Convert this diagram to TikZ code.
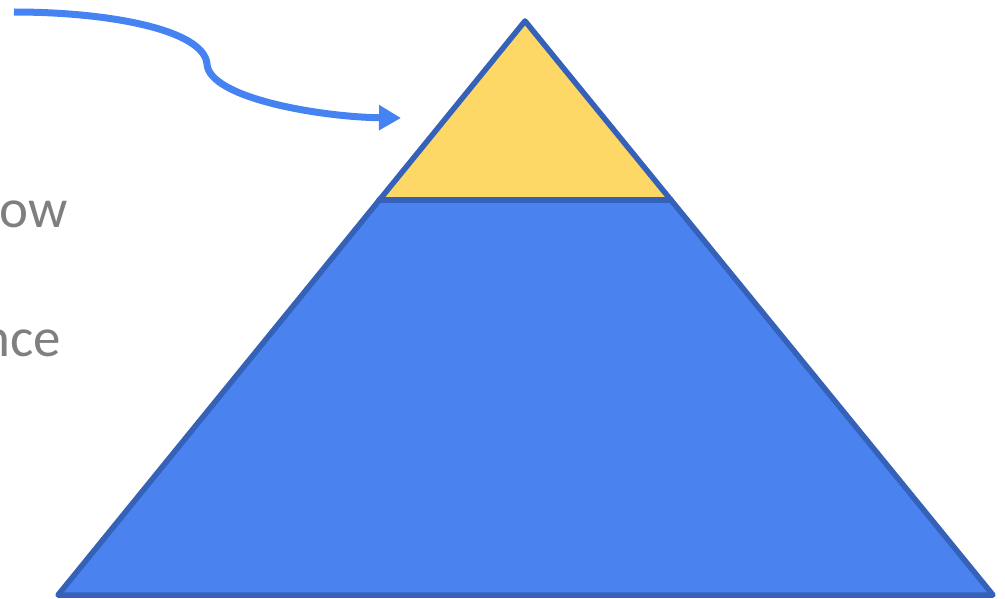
\documentclass[tikz,border=0pt]{standalone}
\usepackage{fontspec}
\setmainfont{Carlito}
\usetikzlibrary{arrows.meta}
\definecolor{pyrblue}{HTML}{4A82F0}
\definecolor{pyredge}{HTML}{3562B8}
\definecolor{pyryellow}{HTML}{FED866}
\definecolor{arrowblue}{HTML}{4583F2}
\definecolor{txtgray}{HTML}{7F7F7F}
\tikzset{
  edgeline/.style={draw=pyredge, line width=5.5pt, line join=round, line cap=round},
  lbl/.style={text=txtgray, font=\fontsize{55}{60}\selectfont, inner sep=0pt, anchor=base east},
  pointer/.style={draw=arrowblue, line width=7pt, -{Triangle[length=22pt,width=24pt]}}
}
\begin{document}
\begin{tikzpicture}[x=1pt,y=-1pt]
\useasboundingbox (0,0) rectangle (1005,599);
\clip (0,0) rectangle (1005,599);
\coordinate (apex) at (525,21);
\coordinate (bl) at (58,595);
\coordinate (br) at (993,595);
\coordinate (ml) at (379,200);
\coordinate (mr) at (671,200);
% fills
\fill[pyrblue] (ml) -- (mr) -- (br) -- (bl) -- cycle;
\fill[pyryellow] (apex) -- (mr) -- (ml) -- cycle;
% outlines
\draw[edgeline] (apex) -- (br) -- (bl) -- cycle;
\draw[edgeline] (ml) -- (mr);
% texts
\node[lbl] (t1) at (68,228) {ow};
\node[lbl] (t2) at (61,356) {nce};
% arrow
\coordinate (as) at (14,12);
\coordinate (am) at (207,64);
\coordinate (ae) at (401,118);
\draw[pointer] (as) .. controls (110,12) and (204,30) .. (am)
  .. controls (209,98) and (320,117) .. (ae);
\end{tikzpicture}
\end{document}
